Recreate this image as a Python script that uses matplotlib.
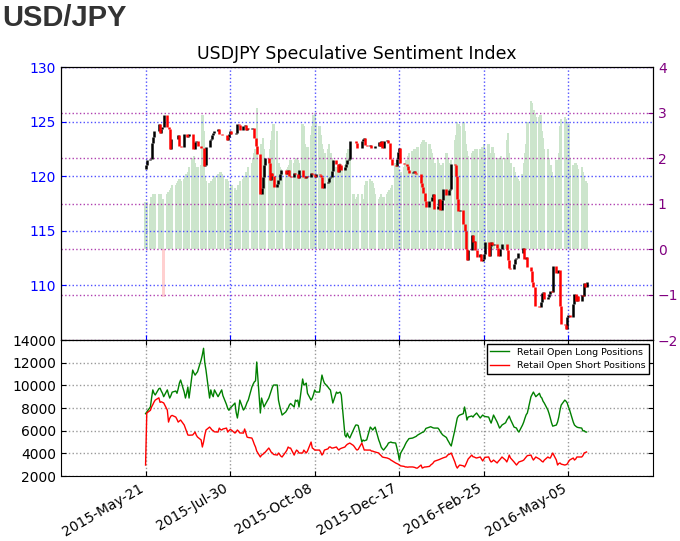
import numpy as np
import pandas as pd
import matplotlib
matplotlib.use('Agg')
import matplotlib.pyplot as plt
import matplotlib.dates as mdates

# daily data, 2015-05-21 .. 2016-05-20 (business days), one row per week
dates = pd.bdate_range('2015-05-21', '2016-05-20')

open0 = 120.7
close = [
    121.0, 121.5,
    121.6, 123.0, 123.6, 124.1, 124.1,
    124.8, 124.0, 124.3, 124.5, 125.6,
    124.5, 124.3, 122.5, 123.4, 123.4,
    123.4, 123.4, 123.8, 122.8, 122.7,
    123.9, 123.9, 123.6, 123.7, 123.9,
    122.5, 122.5, 123.1, 123.2, 122.8,
    122.6, 122.6, 120.9, 121.0, 122.7,
    123.3, 123.4, 123.8, 124.0, 124.1,
    124.3, 123.9, 123.9, 123.8, 123.8,
    123.3, 123.6, 123.9, 124.1, 123.9,
    123.9, 124.0, 124.8, 124.7, 124.2,
    124.6, 124.7, 124.2, 124.4, 124.3,
    124.4, 124.4, 123.5, 122.8, 122.0,
    118.4, 118.9, 119.9, 121.0, 121.7,
    121.2, 119.7, 120.3, 120.0, 119.0,
    119.3, 119.7, 120.2, 120.6, 120.6,
    120.2, 120.4, 120.6, 120.0, 119.9,
    120.3, 120.2, 120.2, 119.8, 120.6,
    119.9, 119.9, 119.8, 120.0, 119.9,
    120.3, 120.2, 120.1, 119.9, 120.2,
    120.1, 119.9, 118.9, 118.9, 119.4,
    119.5, 119.8, 119.9, 120.5, 121.5,
    121.1, 120.4, 121.1, 121.0, 120.6,
    120.8, 121.1, 121.5, 121.6, 123.2,
    123.2, 123.2, 123.0, 122.6, 122.6,
    123.2, 123.4, 123.5, 122.9, 122.8,
    122.9, 122.6, 122.6, 122.6, 122.8,
    123.1, 122.8, 123.2, 122.6, 123.2,
    123.3, 123.0, 121.6, 121.6, 121.0,
    120.9, 121.6, 122.2, 122.6, 121.2,
    121.1, 121.1, 120.9, 120.6, 120.3,
    120.4, 120.5, 120.3, 120.2, 120.2,
    119.4, 119.0, 118.5, 117.7, 117.2,
    117.7, 117.7, 118.1, 118.4, 117.0,
    117.3, 117.9, 116.9, 117.8, 118.8,
    118.3, 118.3, 118.7, 118.8, 121.1,
    121.0, 120.0, 117.9, 116.8, 116.9,
    115.6, 115.0, 113.3, 112.3, 113.2,
    114.6, 114.0, 114.1, 113.2, 112.6,
    112.9, 112.2, 112.4, 112.9, 114.0,
    112.7, 113.6, 114.0, 113.7, 113.8,
    113.4, 112.7, 113.3, 113.3, 113.8,
    113.8, 113.2, 112.3, 111.6, 111.5,
    112.0, 112.4, 112.5, 113.0, 113.0,
    113.4, 112.4, 112.4, 112.6, 111.7,
    111.3, 110.3, 109.9, 108.1, 108.1,
    108.0, 108.5, 109.3, 109.4, 108.8,
    108.9, 109.2, 109.5, 109.4, 111.8,
    111.1, 111.4, 111.4, 108.1, 106.5,
    106.4, 106.0, 107.1, 107.3, 107.1,
    108.3, 109.2, 108.6, 109.0, 108.6,
    109.1, 109.0, 110.2, 109.9, 110.3,
]

ssi = [
    1.03, 1.03,
    1.0, 1.15, 1.2, 1.1, 1.2,
    1.2, 1.15, 1.2, 1.1, -1.05,
    1.2, 1.25, 1.3, 1.35, 1.4,
    1.4, 1.45, 1.5, 1.55, 1.5,
    1.55, 1.6, 1.65, 1.7, 1.8,
    2.0, 2.05, 1.9, 1.75, 1.8,
    1.85, 2.95, 2.6, 1.6, 1.5,
    1.45, 1.5, 1.45, 1.55, 1.6,
    1.65, 1.6, 1.7, 1.65, 1.6,
    1.55, 1.5, 1.35, 1.3, 1.4,
    1.35, 1.3, 1.2, 1.4, 1.5,
    1.55, 1.6, 1.7, 1.65, 1.8,
    1.9, 2.0, 2.1, 2.2, 3.1,
    2.0, 2.3, 2.45, 2.2, 2.0,
    2.0, 2.2, 2.4, 2.6, 2.75,
    2.6, 1.9, 1.8, 1.75, 1.7,
    1.7, 1.75, 1.8, 1.85, 1.95,
    1.9, 1.95, 2.0, 1.95, 1.9,
    2.75, 2.7, 2.3, 2.2, 2.25,
    2.5, 2.7, 2.95, 3.0, 2.8,
    2.7, 2.5, 2.3, 2.2, 2.1,
    2.2, 2.3, 2.1, 2.0, 1.95,
    1.8, 1.75, 1.85, 1.9, 1.8,
    1.85, 2.0, 2.1, 2.2, 2.15,
    1.2, 1.1, 1.05, 1.15, 1.2,
    1.2, 1.1, 1.05, 1.4, 1.5,
    1.55, 1.5, 1.45, 1.35, 1.2,
    1.1, 1.15, 1.2, 1.1, 1.15,
    1.2, 1.25, 1.3, 1.35, 1.4,
    1.9, 1.95, 1.85, 1.75, 1.7,
    1.8, 1.9, 1.95, 2.05, 2.1,
    2.15, 2.2, 2.15, 2.2, 2.25,
    2.3, 2.35, 2.4, 2.3, 2.35,
    2.3, 2.2, 2.1, 2.0, 1.9,
    2.0, 1.9, 1.85, 1.8, 1.9,
    2.1, 2.0, 1.9, 1.85, 1.95,
    2.4, 2.5, 2.8, 2.75, 2.7,
    2.8, 2.6, 2.3, 2.15, 2.05,
    2.1, 2.15, 2.1, 2.2, 2.2,
    2.2, 2.15, 2.25, 2.3, 2.2,
    2.3, 2.1, 2.0, 2.25, 2.1,
    2.0, 1.95, 2.0, 2.05, 2.0,
    2.0, 2.4, 2.55, 2.1, 1.9,
    1.8, 1.7, 1.6, 1.55, 1.5,
    1.65, 1.9, 2.1, 2.3, 2.8,
    3.25, 3.2, 3.05, 3.0, 2.9,
    2.9, 2.95, 2.6, 2.45, 2.2,
    2.2, 2.0, 1.85, 1.7, 1.6,
    1.95, 1.9, 2.1, 2.7, 2.85,
    2.9, 2.85, 2.8, 2.75, 2.0,
    1.85, 1.8, 1.9, 1.85, 1.75,
    1.8, 1.7, 1.6, 1.5, 1.45,
]

longs = [
    7500, 7650,
    8100, 8900, 9600, 9300, 9150,
    9700, 9750, 9500, 9300, 9000,
    9600, 9200, 8880, 9100, 9400,
    9500, 9300, 9700, 10200, 10470,
    9400, 8880, 9300, 9850, 8880,
    11350, 11100, 10900, 11060, 11200,
    12240, 12700, 13270, 12000, 11350,
    8880, 9600, 9200, 9000, 9600,
    9000, 9200, 9400, 9600, 9100,
    8300, 7960, 7800, 8000, 8090,
    8440, 7600, 7120, 7800, 8700,
    7820, 7960, 8200, 8500, 8700,
    9850, 10100, 10300, 10400, 12060,
    7560, 8880, 8500, 8090, 8300,
    8880, 9200, 9500, 9850, 10030,
    10030, 8700, 8200, 7800, 7380,
    7650, 7820, 8000, 8260, 8400,
    8090, 8700, 8600, 8700, 8090,
    10560, 10030, 10100, 10200, 9300,
    8700, 8880, 9200, 9590, 9410,
    9410, 10200, 10910, 10500, 10200,
    9850, 9700, 9590, 9000, 8440,
    9410, 9300, 9350, 9410, 9150,
    5620, 5440, 5790, 5500, 5350,
    6060, 6300, 6500, 6500, 6450,
    5000, 5180, 5100, 5150, 5180,
    6320, 6200, 6060, 6200, 6320,
    5180, 4900, 4560, 4400, 4290,
    4700, 4910, 4950, 5000, 4950,
    4910, 4500, 4030, 3410, 4000,
    4560, 4800, 5000, 5150, 5300,
    5350, 5400, 5440, 5500, 5600,
    5790, 5850, 5880, 6000, 6200,
    6320, 6350, 6300, 6250, 6230,
    6230, 6100, 5900, 5750, 5620,
    5400, 5180, 5000, 4800, 4650,
    6060, 6600, 7120, 7300, 7380,
    7500, 8090, 7600, 6940, 7200,
    7300, 7200, 7350, 7450, 7560,
    7120, 7250, 7380, 7300, 7250,
    7200, 6900, 6670, 7000, 7380,
    6760, 6500, 6230, 6350, 6500,
    6700, 6940, 7100, 7290, 7000,
    6320, 6280, 6230, 6000, 5880,
    6500, 6760, 7100, 7400, 7560,
    9000, 9200, 9410, 9200, 9000,
    9300, 9000, 8880, 8600, 8440,
    7820, 7500, 7120, 6700, 6400,
    6500, 6760, 7200, 7800, 8260,
    8700, 8600, 8440, 8100, 7820,
    6760, 6500, 6400, 6320, 6280,
    6230, 5970, 6000, 5900, 5880,
]

shorts = [
    2970, 7560,
    7800, 8100, 8300, 8530, 8700,
    8900, 8500, 8550, 8500, 8450,
    7820, 6760, 7100, 7290, 7350,
    7200, 7000, 6760, 6850, 6940,
    6500, 6200, 5900, 5620, 5600,
    5620, 5750, 5880, 5600, 5440,
    5180, 4560, 5000, 5600, 6060,
    6320, 6200, 6060, 6000, 5900,
    5880, 6230, 6100, 6060, 6150,
    6230, 5880, 6000, 6100, 6060,
    5790, 5900, 6060, 5950, 5800,
    5790, 6150, 5800, 5440, 5400,
    5350, 5100, 4800, 4560, 4200,
    3680, 3850, 3900, 4030, 4100,
    4470, 4300, 4100, 4030, 3900,
    3850, 4030, 3900, 3750, 3680,
    4120, 4290, 4560, 4470, 4470,
    3850, 4100, 4290, 4200, 4030,
    4030, 4290, 4150, 4030, 4200,
    5000, 4470, 4400, 4290, 4290,
    4290, 4100, 3850, 4000, 4290,
    4400, 4560, 4560, 4470, 4470,
    4560, 4400, 4290, 4400, 4450,
    4560, 4700, 4800, 4850, 4910,
    4700, 4560, 4400, 4290, 4350,
    4910, 4600, 4290, 4300, 4290,
    4290, 4200, 4200, 4150, 4120,
    4030, 3900, 3800, 3680, 3650,
    3590, 3550, 3500, 3410, 3350,
    3150, 3100, 3050, 2970, 2900,
    2850, 2800, 2800, 2780, 2800,
    2800, 2780, 2750, 2700, 2700,
    2970, 2700, 2750, 2800, 2800,
    2850, 2970, 3050, 3150, 3300,
    3410, 3450, 3500, 3550, 3590,
    3700, 3850, 3900, 3950, 4030,
    3240, 2900, 2700, 2850, 2970,
    2900, 2800, 3000, 3240, 3500,
    3850, 3700, 3680, 3620, 3590,
    3680, 3500, 3330, 3500, 3650,
    3680, 3400, 3240, 3300, 3410,
    3150, 3300, 3410, 3550, 3680,
    3400, 3240, 3500, 3850, 3600,
    3240, 3100, 2970, 3100, 3240,
    3350, 3410, 3550, 3680, 3800,
    3850, 3600, 3410, 3550, 3680,
    3500, 3410, 3300, 3240, 3400,
    3680, 3600, 3590, 3800, 4030,
    3410, 2970, 3100, 3150, 3050,
    2970, 3000, 3060, 3250, 3410,
    3590, 3410, 3500, 3680, 3680,
    3680, 3800, 4030, 4080, 4120,
]

date_ticks = ['2015-05-21', '2015-07-30', '2015-10-08', '2015-12-17', '2016-02-25', '2016-05-05']
x_start, x_end = '2015-03-12', '2016-07-14'

close = np.array(close)
ssi = np.array(ssi)
opens = np.r_[open0, close[:-1]]
up = close >= opens

fig = plt.figure(figsize=(6.8, 5.41), dpi=100)
ax = fig.add_axes([0.0897, 0.3715, 0.8706, 0.5046])
ax2 = ax.twinx()
axb = fig.add_axes([0.0897, 0.1201, 0.8706, 0.2514], sharex=ax)

# sentiment bars behind the candles
ax2.bar(dates, ssi, width=2.0, color=np.where(ssi > 0, '#cce5cc', '#ffd0d0'), lw=0)
ax2.set_ylim(-2, 4)
ax2.set_yticks(range(-2, 5))
ax2.tick_params(axis='y', colors='purple', labelsize=10, direction='in')
ax2.grid(True, axis='y', color='#b040b0', ls=':', lw=1)

ax.set_zorder(ax2.get_zorder() + 1)
ax.patch.set_visible(False)
ax.vlines(dates[up], opens[up], close[up], color='black', lw=1.8)
ax.vlines(dates[~up], opens[~up], close[~up], color='red', lw=1.8)
ax.set_ylim(105, 130)
ax.set_yticks([110, 115, 120, 125, 130])
ax.tick_params(axis='y', colors='blue', labelsize=10, direction='in')
ax.tick_params(axis='x', colors='blue', direction='in', labelbottom=False)
ax.grid(True, color='#5050ff', ls=':', lw=1)
ax.set_title('USDJPY Speculative Sentiment Index', fontsize=12.5, pad=6)
for s in ax.spines.values():
    s.set_color('black')

axb.plot(dates, longs, color='green', lw=1, label='Retail Open Long Positions')
axb.plot(dates, shorts, color='red', lw=1, label='Retail Open Short Positions')
axb.set_ylim(2000, 14000)
axb.set_yticks(range(2000, 14001, 2000))
axb.grid(True, color='gray', ls=':', lw=1, alpha=0.8)
axb.tick_params(axis='y', labelsize=10, direction='in', right=True)
axb.tick_params(axis='x', labelsize=10, direction='in', top=True)
axb.set_xlim(pd.Timestamp(x_start), pd.Timestamp(x_end))
axb.set_xticks(pd.to_datetime(date_ticks))
axb.xaxis.set_major_formatter(mdates.DateFormatter('%Y-%b-%d'))
plt.setp(axb.get_xticklabels(), rotation=30, ha='right')
leg = axb.legend(loc='upper right', fontsize=6.8, fancybox=False, framealpha=1,
                 edgecolor='black', borderaxespad=0.4)
leg.get_frame().set_linewidth(1)

fig.text(0.004, 0.993, 'USD/JPY', fontsize=21, fontweight='bold', color='#333333',
         family='Liberation Sans', va='top', ha='left')

fig.savefig('out.png', dpi=100)
